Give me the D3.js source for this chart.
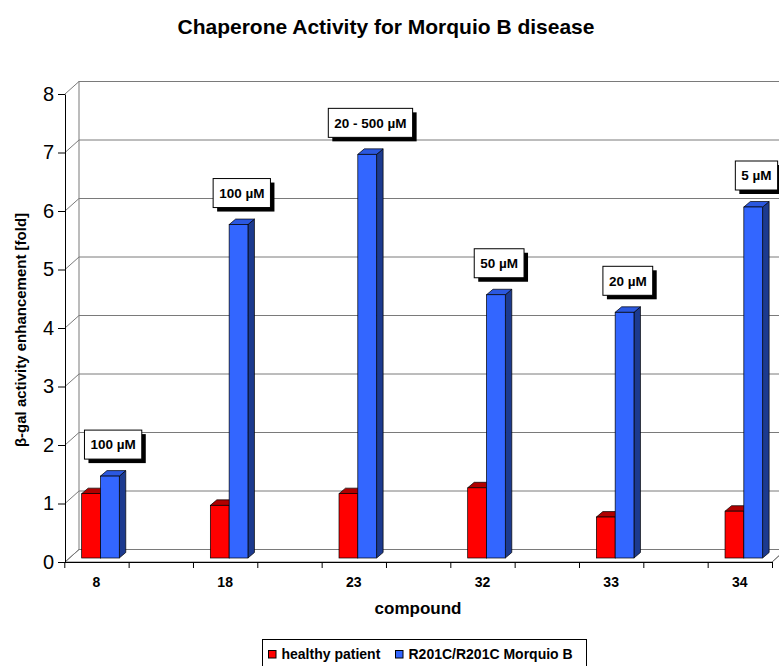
<!DOCTYPE html>
<html>
<head>
<meta charset="utf-8">
<script src="https://cdn.jsdelivr.net/npm/d3@7"></script>
<style>
  body { margin: 0; background: #fff; }
  text { font-family: "Liberation Sans", Arial, sans-serif; }
</style>
</head>
<body>
<div id="chart"></div>
<script>
// compounds (empty slots are spacer rows, as in the original sheet)
var categories = ["8", null, "18", null, "23", null, "32", null, "33", null, "34"];
var healthy = [1.1, null, 0.9, null, 1.1, null, 1.2, null, 0.7, null, 0.8];
var morquio = [1.4, null, 5.7, null, 6.9, null, 4.5, null, 4.2, null, 6.0];
var concentrations = ["100 µM", null, "100 µM", null, "20 - 500 µM", null, "50 µM", null, "20 µM", null, "5 µM"];
var yTicks = [0, 1, 2, 3, 4, 5, 6, 7, 8];
var seriesNames = ["healthy patient", "R201C/R201C Morquio B"];

var width = 779, height = 666;

// 3d offsets
var wallDx = 14, wallDy = -12.5;   // back wall
var planeDx = 4, planeDy = -4;     // plane the bars stand in
var barDx = 6.5, barDy = -5.5;     // bar depth

var colors = [
  {front: "#ff0000", top: "#b00000", side: "#7a0000"},
  {front: "#3366ff", top: "#2b58e0", side: "#1c3a8f"}
];

var svg = d3.select("#chart")
  .append("svg")
  .attr("width", width)
  .attr("height", height)
  .style("display", "block");

svg.append("rect").attr("width", width).attr("height", height).attr("fill", "#fff");

var y = d3.scaleLinear()
  .domain([0, 8])
  .range([562, 94]);

var x = d3.scaleBand()
  .domain(d3.range(categories.length))
  .range([64.3, 772]);

var xEdge = d3.scaleLinear()
  .domain([0, categories.length])
  .range([64.3, 772]);

var barW = 18.8;
var xs = d3.scaleBand()
  .domain([0, 1])
  .range([x.bandwidth() / 2 - barW, x.bandwidth() / 2 + barW]);

var x0 = 65, x1 = 772;
var gridColor = "#7a7a7a";

// back wall, left wall and floor
svg.append("rect")
  .attr("x", x0 + wallDx)
  .attr("y", y(8) + wallDy)
  .attr("width", x1 - x0 + 20)
  .attr("height", y(0) - y(8))
  .attr("fill", "#fff")
  .attr("stroke", gridColor);

svg.append("path")
  .attr("d", "M" + x0 + "," + y(0) + "L" + x1 + "," + y(0) +
             "L" + (x1 + wallDx) + "," + (y(0) + wallDy) +
             "L" + (x0 + wallDx) + "," + (y(0) + wallDy) + "Z")
  .attr("fill", "#fff")
  .attr("stroke", gridColor);

// gridlines on back wall and the diagonals on the side wall
svg.selectAll("grid")
  .data(yTicks)
  .enter()
  .append("line")
    .attr("x1", x0 + wallDx)
    .attr("x2", x1 + wallDx + 20)
    .attr("y1", function(d) { return y(d) + wallDy; })
    .attr("y2", function(d) { return y(d) + wallDy; })
    .attr("stroke", gridColor);

svg.selectAll("diag")
  .data(yTicks)
  .enter()
  .append("line")
    .attr("x1", x0)
    .attr("x2", x0 + wallDx)
    .attr("y1", function(d) { return y(d); })
    .attr("y2", function(d) { return y(d) + wallDy; })
    .attr("stroke", gridColor);

svg.append("line")
  .attr("x1", x1).attr("y1", y(0))
  .attr("x2", x1 + wallDx).attr("y2", y(0) + wallDy)
  .attr("stroke", gridColor);

// bars
function bar(g, xl, val, c) {
  var left = xl + planeDx;
  var right = left + barW;
  var top = y(val) + planeDy;
  var bottom = y(0) + planeDy;
  g.append("path")
    .attr("d", "M" + right + "," + top + "L" + (right + barDx) + "," + (top + barDy) +
               "L" + (right + barDx) + "," + (bottom + barDy) + "L" + right + "," + bottom + "Z")
    .attr("fill", c.side).attr("stroke", "#000").attr("stroke-width", 0.7);
  g.append("path")
    .attr("d", "M" + left + "," + top + "L" + (left + barDx) + "," + (top + barDy) +
               "L" + (right + barDx) + "," + (top + barDy) + "L" + right + "," + top + "Z")
    .attr("fill", c.top).attr("stroke", "#000").attr("stroke-width", 0.7);
  g.append("rect")
    .attr("x", left).attr("y", top)
    .attr("width", barW).attr("height", bottom - top)
    .attr("fill", c.front).attr("stroke", "#000").attr("stroke-width", 0.7);
}

var barsG = svg.append("g");
categories.forEach(function(cat, i) {
  if (cat === null) return;
  bar(barsG, x(i) + xs(0), healthy[i], colors[0]);
  bar(barsG, x(i) + xs(1), morquio[i], colors[1]);
});

// concentration callouts
var callG = svg.append("g");
categories.forEach(function(cat, i) {
  if (concentrations[i] === null) return;
  var cx = x(i) + xs(1) + planeDx + barW / 2 + barDx / 2;
  var bottom = y(morquio[i]) + planeDy - 17;
  var g = callG.append("g");
  var t = g.append("text")
    .attr("x", cx)
    .attr("y", bottom - 14.5)
    .attr("dy", "0.35em")
    .attr("text-anchor", "middle")
    .style("font-size", "13.5px")
    .style("font-weight", "bold")
    .text(concentrations[i]);
  var w = t.node().getComputedTextLength() + 12;
  g.insert("rect", "text")
    .attr("x", cx - w / 2 + 4).attr("y", bottom - 29 + 4)
    .attr("width", w).attr("height", 29)
    .attr("fill", "#000");
  g.insert("rect", "text")
    .attr("x", cx - w / 2).attr("y", bottom - 29)
    .attr("width", w).attr("height", 29)
    .attr("fill", "#fff").attr("stroke", "#000");
});

// y axis
svg.append("g")
  .attr("transform", "translate(" + x0 + ",0)")
  .call(d3.axisLeft(y).tickValues(yTicks).tickSize(7).tickSizeOuter(0).tickPadding(4))
  .call(function(g) {
    g.selectAll("text")
      .style("font-size", "20px")
      .style("font-family", "'Liberation Sans', Arial, sans-serif")
      .attr("fill", "#000");
    g.selectAll("line, path").attr("stroke", "#000");
  });

// x axis: ticks on the category edges
svg.append("g")
  .attr("transform", "translate(0," + y(0) + ")")
  .call(d3.axisBottom(xEdge).tickValues(d3.range(categories.length + 1)).tickSize(6).tickSizeOuter(0).tickFormat(""))
  .call(function(g) {
    g.selectAll("line, path").attr("stroke", "#000");
  });

svg.selectAll("xlab")
  .data(categories)
  .enter()
  .append("text")
    .attr("x", function(d, i) { return x(i) + x.bandwidth() / 2; })
    .attr("y", 587)
    .attr("text-anchor", "middle")
    .style("font-size", "14px")
    .style("font-weight", "bold")
    .text(function(d) { return d === null ? "" : d; });

// titles
svg.append("text")
  .attr("x", 386)
  .attr("y", 34)
  .attr("text-anchor", "middle")
  .style("font-size", "21px")
  .style("font-weight", "bold")
  .text("Chaperone Activity for Morquio B disease");

svg.append("text")
  .attr("x", 418)
  .attr("y", 614)
  .attr("text-anchor", "middle")
  .style("font-size", "17px")
  .style("font-weight", "bold")
  .text("compound");

svg.append("text")
  .attr("transform", "rotate(-90)")
  .attr("x", -330)
  .attr("y", 26)
  .attr("text-anchor", "middle")
  .style("font-size", "15px")
  .style("font-weight", "bold")
  .text("β-gal activity enhancement [fold]");

// legend
var legend = svg.append("g");
legend.append("rect")
  .attr("x", 262.5).attr("y", 639.5)
  .attr("width", 324).attr("height", 32)
  .attr("fill", "#fff").attr("stroke", "#000");

var legendX = [268, 395];
seriesNames.forEach(function(name, i) {
  legend.append("rect")
    .attr("x", legendX[i] + 0.5).attr("y", 650.5)
    .attr("width", 7.5).attr("height", 7.5)
    .attr("fill", colors[i].front).attr("stroke", "#000");
  legend.append("text")
    .attr("x", legendX[i] + 13.5)
    .attr("y", 659)
    .style("font-size", "14px")
    .style("font-weight", "bold")
    .text(name);
});
</script>
</body>
</html>
